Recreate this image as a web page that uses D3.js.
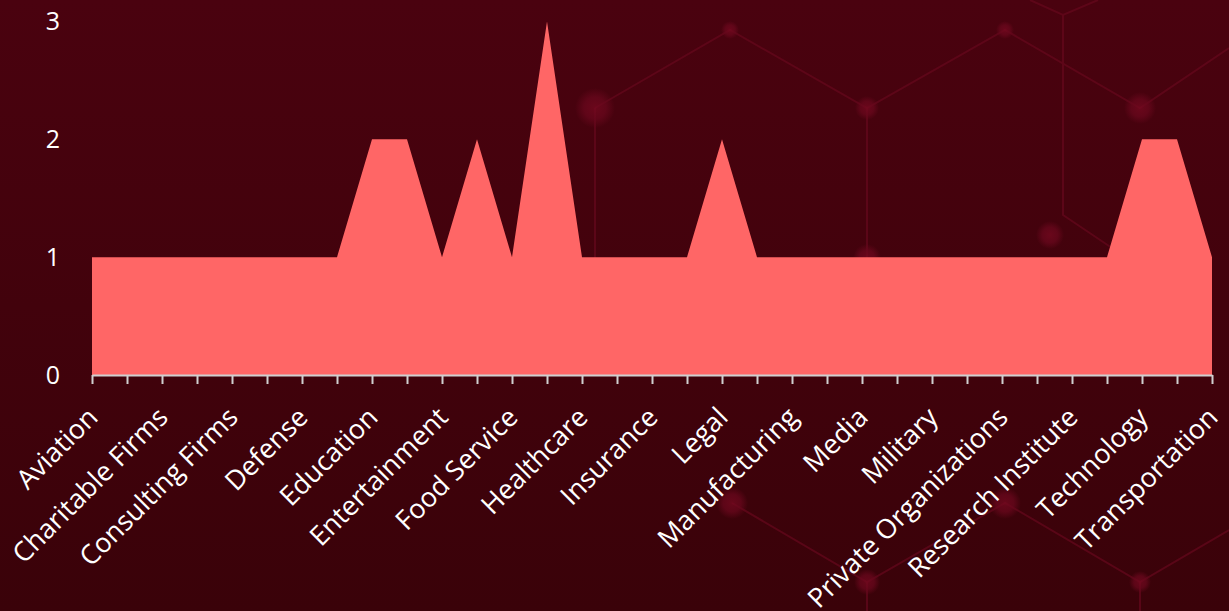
<!DOCTYPE html>
<html>
<head>
<meta charset="utf-8">
<script src="https://cdn.jsdelivr.net/npm/d3@7"></script>
<style>
  html, body { margin: 0; padding: 0; background: #42030e; overflow: hidden; }
  svg { display: block; }
</style>
</head>
<body>
<script>
// values for every point on the axis (33 points, one per tick)
const values = [1, 1, 1, 1, 1, 1, 1, 1, 2, 2, 1, 2, 1, 3, 1, 1, 1,
                1, 2, 1, 1, 1, 1, 1, 1, 1, 1, 1, 1, 1, 2, 2, 1];
// only every other tick carries a visible label in the source
const labels = ['Aviation', 'Charitable Firms', 'Consulting Firms', 'Defense',
  'Education', 'Entertainment', 'Food Service', 'Healthcare', 'Insurance',
  'Legal', 'Manufacturing', 'Media', 'Military', 'Private Organizations',
  'Research Institute', 'Technology', 'Transportation'];
const yTicks = [0, 1, 2, 3];

const W = 1229, H = 611;
const margin = { top: 21.5, right: 17, bottom: 236, left: 92 };
const width = W - margin.left - margin.right;
const height = H - margin.top - margin.bottom;
const font = '"Open Sans", sans-serif';

const svg = d3.select('body').append('svg')
  .attr('width', W)
  .attr('height', H);

// background
const defs = svg.append('defs');
const bg = defs.append('linearGradient').attr('id', 'bg')
  .attr('x1', 0).attr('y1', 0).attr('x2', 0).attr('y2', 1);
bg.append('stop').attr('offset', '0%').attr('stop-color', '#4a020f');
bg.append('stop').attr('offset', '100%').attr('stop-color', '#3a0209');
const glow = defs.append('radialGradient').attr('id', 'node');
glow.append('stop').attr('offset', '0%').attr('stop-color', '#760920');
glow.append('stop').attr('offset', '55%').attr('stop-color', '#68071c');
glow.append('stop').attr('offset', '100%').attr('stop-color', '#68071c').attr('stop-opacity', 0);

svg.append('rect').attr('width', W).attr('height', H).attr('fill', 'url(#bg)');

// faint molecule pattern behind the chart
const deco = svg.append('g').attr('fill', 'none').attr('stroke', '#66081d')
  .attr('stroke-width', 2).attr('opacity', 0.7);
const bonds = [
  [[595, 108], [730, 30], [867, 108], [1005, 30], [1140, 108], [1229, 48]],
  [[595, 108], [595, 375]],
  [[867, 108], [867, 258]],
  [[1030, 0], [1063, 15], [1098, 0]],
  [[1063, 15], [1063, 215], [1115, 250]],
  [[732, 503], [867, 582], [1005, 503], [1140, 582], [1229, 530]],
  [[867, 582], [867, 611]], [[1140, 582], [1140, 611]]
];
bonds.forEach(b => deco.append('path').attr('d', d3.line()(b)));
const nodes = [[595, 108, 20], [730, 30, 9], [867, 108, 12], [1005, 30, 9],
  [1140, 108, 16], [867, 258, 14], [1050, 235, 14], [732, 503, 16],
  [867, 582, 13], [1005, 503, 16], [1140, 582, 11]];
svg.append('g').selectAll('circle').data(nodes).join('circle')
  .attr('cx', d => d[0]).attr('cy', d => d[1]).attr('r', d => d[2])
  .attr('fill', 'url(#node)').attr('opacity', 0.75);

const g = svg.append('g')
  .attr('transform', 'translate(' + margin.left + ',' + margin.top + ')');

const x = d3.scalePoint().domain(d3.range(values.length)).range([0, width]);
const y = d3.scaleLinear().domain([0, 3]).range([height, 0]);

const area = d3.area()
  .x((d, i) => x(i))
  .y0(y(0))
  .y1(d => y(d));

g.append('path').datum(values)
  .attr('fill', '#ff6666')
  .attr('d', area);

// x axis
const xAxis = g.append('g')
  .attr('transform', 'translate(0,' + height + ')')
  .call(d3.axisBottom(x).tickSize(9).tickSizeOuter(0)
    .tickFormat(i => (i % 2 === 0 ? labels[i / 2] : '')));
xAxis.select('.domain').attr('stroke', '#d0d0d0').attr('stroke-width', 2);
xAxis.selectAll('.tick line').attr('stroke', '#d0d0d0').attr('stroke-width', 2);
xAxis.selectAll('.tick text')
  .attr('fill', '#ffffff')
  .attr('font-family', font)
  .attr('font-size', 27)
  .attr('text-anchor', 'end')
  .attr('dy', 0)
  .attr('y', 0)
  .attr('transform', 'translate(7,44) rotate(-45)');

// y axis labels only
const yAxis = g.append('g')
  .call(d3.axisLeft(y).tickValues(yTicks).tickFormat(d3.format('d'))
    .tickSize(0).tickPadding(32));
yAxis.select('.domain').remove();
yAxis.selectAll('.tick text')
  .attr('fill', '#ffffff')
  .attr('font-family', font)
  .attr('font-size', 25);
</script>
</body>
</html>
